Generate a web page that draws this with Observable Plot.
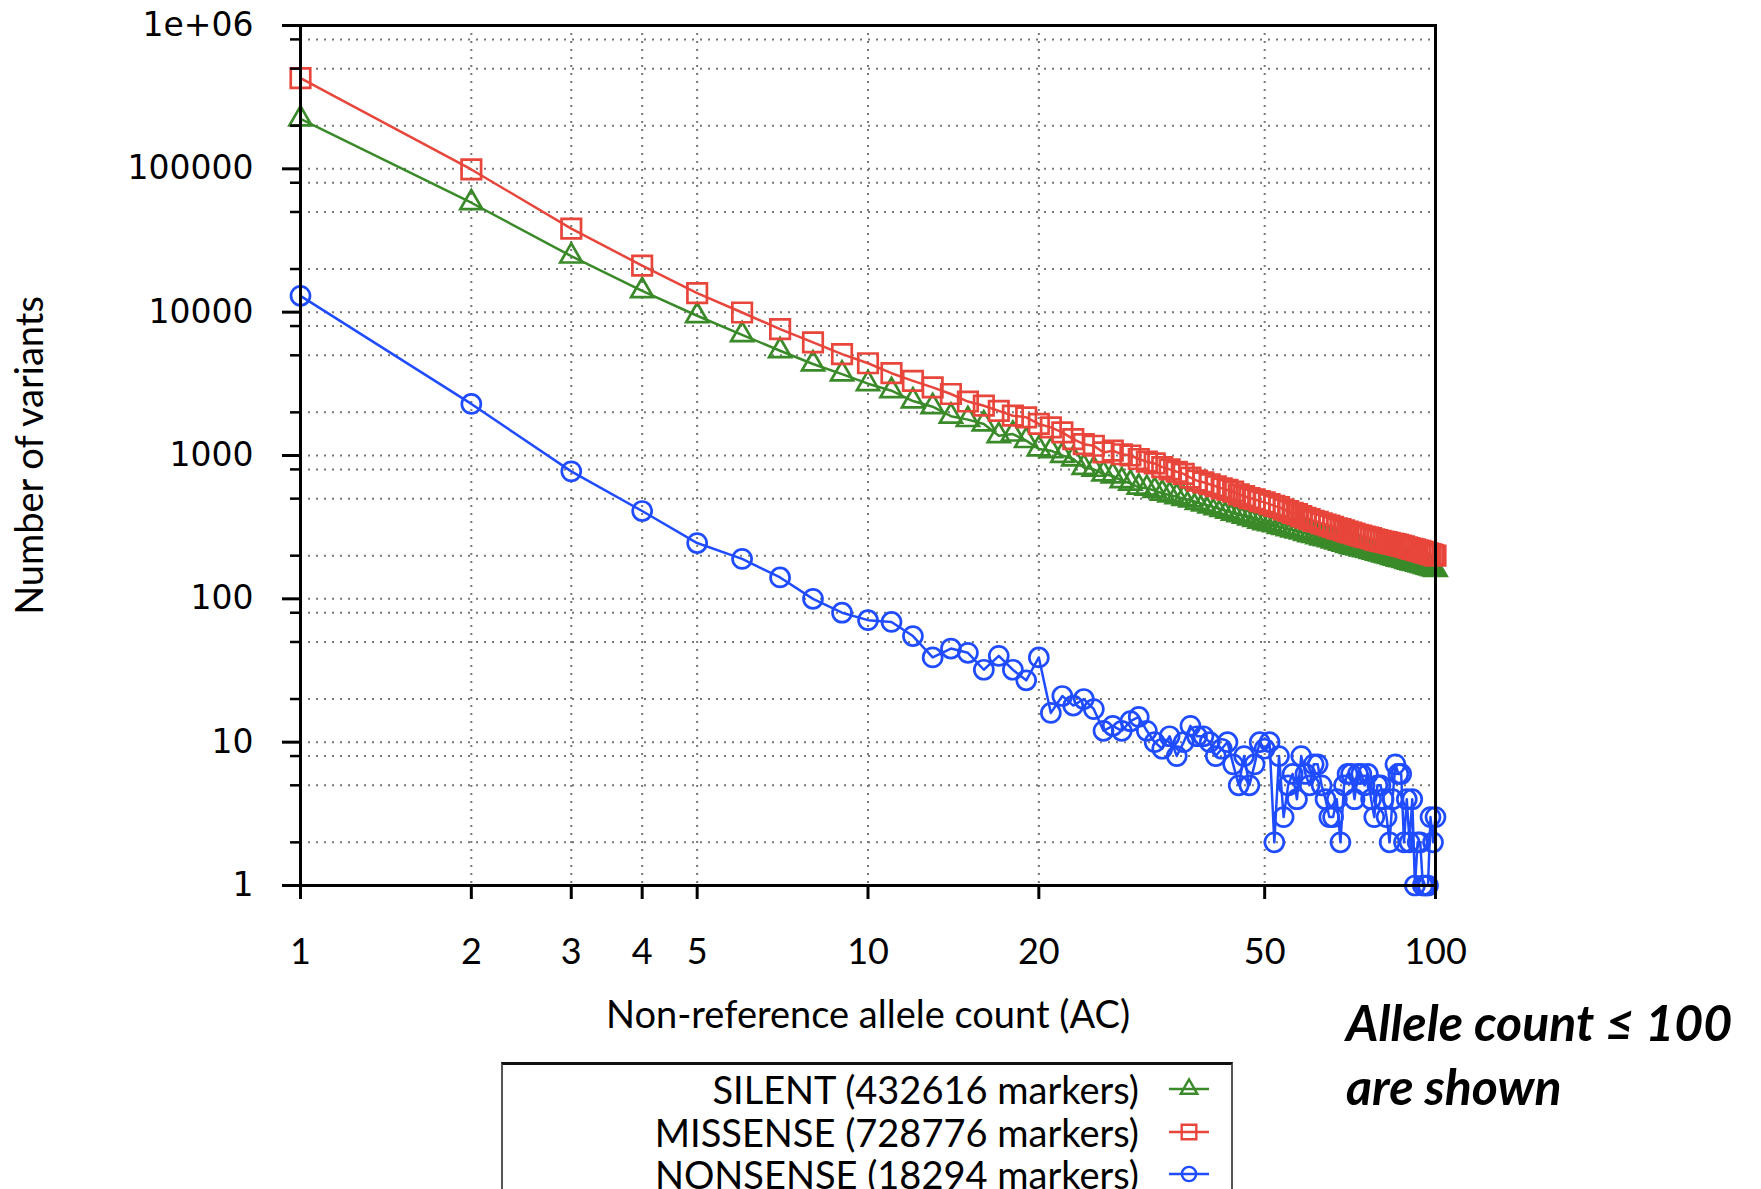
<!DOCTYPE html>
<html><head><meta charset="utf-8">
<script src="https://cdn.jsdelivr.net/npm/d3@7"></script>
<script src="https://cdn.jsdelivr.net/npm/@observablehq/plot@0.6"></script>
<style>
body{margin:0;background:#fff;}
#wrap{position:relative;width:1761px;height:1189px;overflow:hidden;background:#fff;}
#legend{position:absolute;left:501px;top:1062px;width:732px;height:150px;box-sizing:border-box;border-top:3px solid #111;border-left:2px solid #555;border-right:2px solid #555;}
.row{position:absolute;left:0;width:636px;text-align:right;font-family:Lato,"Open Sans",sans-serif;font-size:38px;line-height:40px;height:40px;color:#000;white-space:nowrap;}
.sample{position:absolute;left:660px;}
#note{position:absolute;left:1346px;top:990px;font-family:Lato,"Open Sans",sans-serif;font-weight:bold;font-style:italic;font-size:50px;line-height:64px;color:#000;white-space:nowrap;}
</style></head><body><div id="wrap"></div><script>
const acCounts = [1,2,3,4,5,6,7,8,9,10,11,12,13,14,15,16,17,18,19,20,21,22,23,24,25,26,27,28,29,30,31,32,33,34,35,36,37,38,39,40,41,42,43,44,45,46,47,48,49,50,51,52,53,54,55,56,57,58,59,60,61,62,63,64,65,66,67,68,69,70,71,72,73,74,75,76,77,78,79,80,81,82,83,84,85,86,87,88,89,90,91,92,93,94,95,96,97,98,99,100];

const silentCounts = [223000,58000,24600,14100,9440,6950,5380,4350,3700,3170,2830,2400,2190,1880,1780,1660,1375,1410,1270,1110,1080,1000,945,826,800,742,720,667,640,600,590,570,545,530,515,500,490,470,458,445,432,420,408,395,386,376,366,358,348,340,334,328,320,315,308,302,297,292,286,280,276,271,266,262,258,253,249,244,240,235,232,229,226,223,220,217,214,211,208,205,202,200,197,194,192,189,187,185,182,180,178,176,174,172,170,168,166,164,162,160];

const missenseCounts = [429000,99000,38300,21100,13600,9950,7620,6150,5100,4400,3750,3320,2985,2685,2380,2225,2050,1895,1846,1660,1570,1450,1300,1200,1170,1050,1080,1020,1000,945,905,880,830,800,770,745,700,667,650,630,610,590,575,560,535,520,505,495,480,471,458,445,436,420,410,398,390,378,368,360,350,345,336,330,324,318,310,306,300,294,290,285,280,276,272,268,265,260,257,254,251,249,246,243,241,238,235,232,229,226,223,221,218,216,213,210,208,205,203,200];

const nonsenseCounts = [13000,2290,775,410,245,190,141,100,80,71,69,55,39,45,42,32,40,32,27,39,16,21,18,20,17,12,13,12,14,15,12,10,9,11,8,10,13,11,11,10,8,9,10,7,5,8,5,7,10,9,10,2,8,3,5,6,4,8,6,5,7,7,5,4,3,3,4,2,5,6,6,4,6,6,5,6,4,3,5,5,4,3,2,4,7,6,6,2,4,2,4,1,2,2,1,1,1,3,2,3];

const seriesNames = ["SILENT", "MISSENSE", "NONSENSE"];
const seriesLabels = ["SILENT (432616 markers)", "MISSENSE (728776 markers)", "NONSENSE (18294 markers)"];
const seriesColors = ["#3a8a2a", "#e8453b", "#1f4cff"];
const seriesSymbols = ["triangle", "square", "circle"];
const seriesRadius = [8.2, 11, 9.5];

const xTicks = [1,2,3,4,5,10,20,50,100];
const xGrid = [2,3,4,5,10,20,50,100];
const yMajor = [1,10,100,1000,10000,100000,1000000];
const yMinor = [2,5,8,20,50,80,200,500,800,2000,5000,8000,20000,50000,80000,200000,500000,800000];
const yGrid = [2,5,8,10,20,50,80,100,200,500,800,1000,2000,5000,8000,10000,20000,50000,80000,100000,200000,500000,800000];

const seriesValues = [silentCounts, missenseCounts, nonsenseCounts];
const rows = [];
seriesNames.forEach((s, i) => {
  acCounts.forEach((ac, j) => rows.push({series: s, ac, n: seriesValues[i][j]}));
});

const gridStyle = {stroke: "#777", strokeWidth: 2, strokeDasharray: "2,6"};

const seriesMarks = seriesNames.flatMap((s, i) => {
  const d = rows.filter(r => r.series === s);
  return [
    Plot.line(d, {x: "ac", y: "n", stroke: seriesColors[i], strokeWidth: 2.5}),
    Plot.dot(d, {x: "ac", y: "n", symbol: seriesSymbols[i], r: seriesRadius[i], stroke: seriesColors[i], fill: "none", strokeWidth: 2.7})
  ];
});

const chart = Plot.plot({
  width: 1761,
  height: 1189,
  marginLeft: 300,
  marginRight: 326,
  marginTop: 25,
  marginBottom: 304,
  style: {background: "white", color: "black", overflow: "visible"},
  x: {type: "log", domain: [1, 100]},
  y: {type: "log", domain: [1, 1000000]},
  marks: [
    Plot.ruleY(yGrid, gridStyle),
    Plot.ruleX(xGrid, gridStyle),
    ...seriesMarks,
    Plot.frame({stroke: "black", strokeWidth: 3}),
    Plot.axisY({ticks: yMajor, tickSize: 18, tickPadding: 29, strokeWidth: 3,
      tickFormat: d => d === 1000000 ? "1e+06" : d3.format("d")(d),
      fontSize: 33, fontFamily: "DejaVu Sans", label: null}),
    Plot.axisY({ticks: yMinor, tickSize: 10, strokeWidth: 2.5, tickFormat: () => "", label: null}),
    Plot.axisX({ticks: xTicks, tickSize: 14, tickPadding: 39, strokeWidth: 3,
      tickFormat: d => String(d), fontSize: 36, fontFamily: "Lato", label: null}),
    Plot.text(["Non-reference allele count (AC)"], {text: d => d, frameAnchor: "bottom", dy: 142, fontSize: 38, fontFamily: "Lato", fill: "black"}),
    Plot.text(["Number of variants"], {text: d => d, frameAnchor: "left", textAnchor: "middle", dx: -270, rotate: -90, fontSize: 38, fontFamily: "Lato", fill: "black"})
  ]
});

const wrap = document.getElementById("wrap");
wrap.appendChild(chart);

// legend
const legend = document.createElement("div");
legend.id = "legend";
wrap.appendChild(legend);
const rowCenters = [24, 67, 109];
seriesLabels.forEach((lab, i) => {
  const r = document.createElement("div");
  r.className = "row";
  r.style.top = (rowCenters[i] - 20) + "px";
  r.textContent = lab;
  legend.appendChild(r);
  const svg = d3.create("svg").attr("class", "sample").attr("width", 52).attr("height", 30)
    .style("top", (rowCenters[i] - 15) + "px");
  svg.append("line").attr("x1", 6).attr("x2", 46).attr("y1", 15).attr("y2", 15)
    .attr("stroke", seriesColors[i]).attr("stroke-width", 2.5);
  const area = Math.PI * Math.pow(seriesRadius[i] * 0.75, 2);
  const sym = {triangle: d3.symbolTriangle, square: d3.symbolSquare, circle: d3.symbolCircle}[seriesSymbols[i]];
  svg.append("path").attr("d", d3.symbol(sym, area)()).attr("transform", "translate(26,15)")
    .attr("fill", "none").attr("stroke", seriesColors[i]).attr("stroke-width", 2.4);
  legend.appendChild(svg.node());
});

const note = document.createElement("div");
note.id = "note";
note.innerHTML = "Allele count ≤ 100<br>are shown";
wrap.appendChild(note);
</script></body></html>
